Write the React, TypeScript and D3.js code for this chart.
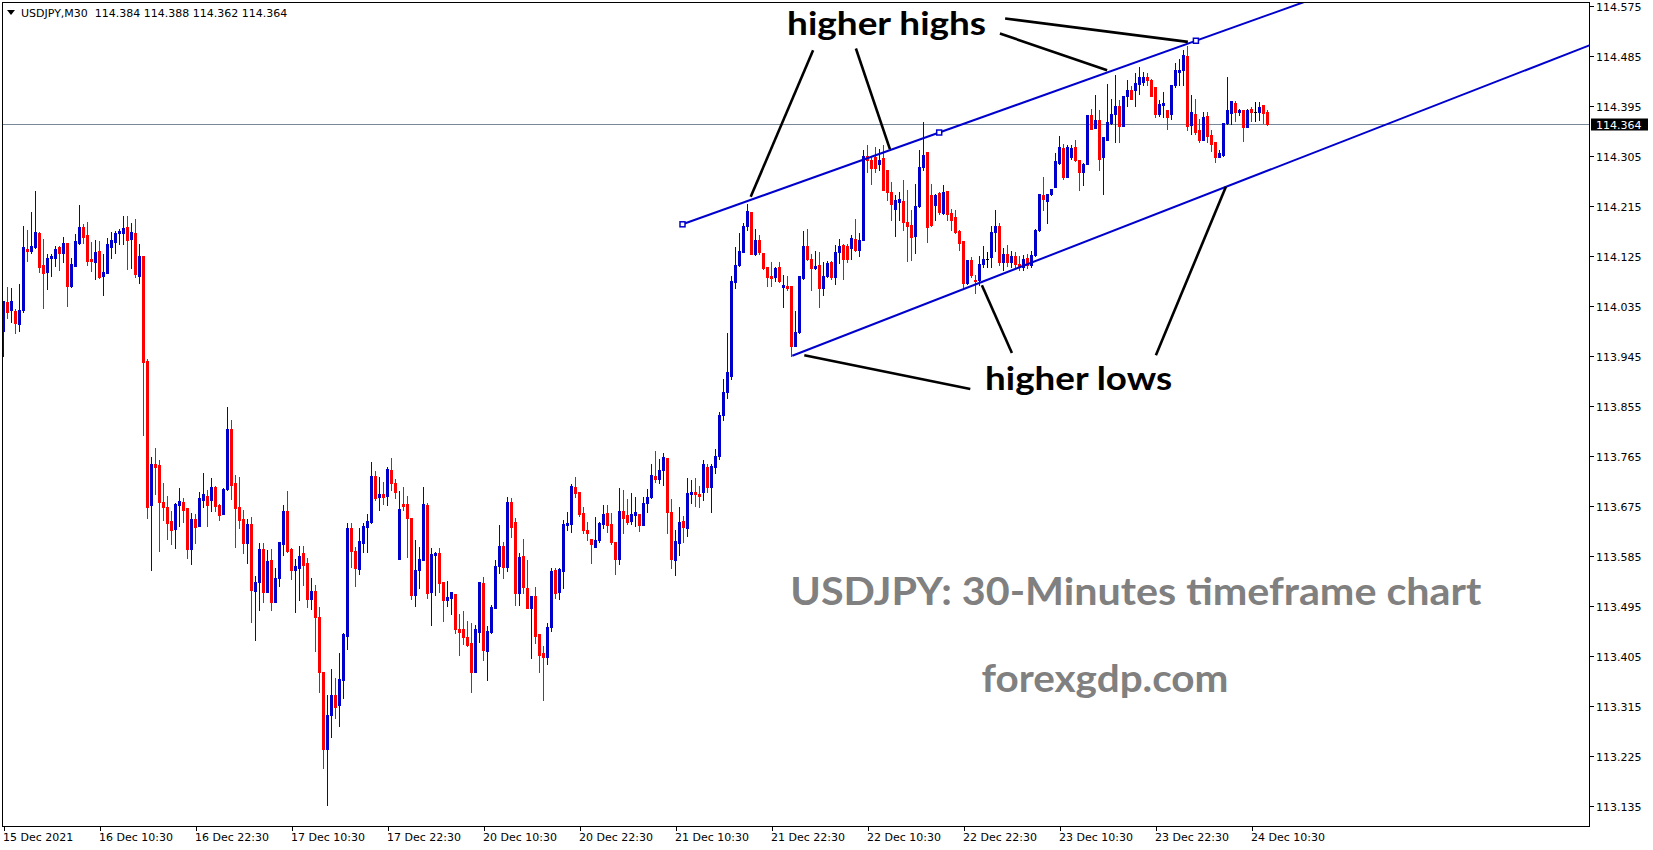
import React from 'react';
import * as d3 from 'd3';

// ---------- DATA (USDJPY M30, one entry per bar) ----------
const opens = [
  113.990, 114.042, 114.028, 114.026, 114.003, 114.028, 114.139, 114.135, 114.141, 114.167,
  114.109, 114.096, 114.122, 114.122, 114.141, 114.131, 114.149, 114.071, 114.107, 114.149,
  114.177, 114.163, 114.120, 114.114, 114.134, 114.089, 114.095, 114.141, 114.150, 114.167,
  114.167, 114.177, 114.156, 114.167, 114.089, 114.125, 113.936, 113.677, 113.751, 113.749,
  113.682, 113.673, 113.648, 113.634, 113.677, 113.682, 113.672, 113.598, 113.652, 113.639,
  113.686, 113.693, 113.686, 113.709, 113.677, 113.661, 113.706, 113.814, 113.717, 113.673,
  113.652, 113.609, 113.643, 113.523, 113.539, 113.598, 113.521, 113.578, 113.503, 113.546,
  113.608, 113.667, 113.598, 113.561, 113.564, 113.591, 113.573, 113.508, 113.522, 113.476,
  113.377, 113.238, 113.299, 113.335, 113.317, 113.362, 113.441, 113.636, 113.594, 113.562,
  113.609, 113.638, 113.647, 113.729, 113.692, 113.697, 113.693, 113.740, 113.717, 113.580,
  113.679, 113.679, 113.654, 113.515, 113.560, 113.578, 113.677, 113.521, 113.587, 113.591,
  113.539, 113.506, 113.510, 113.517, 113.454, 113.454, 113.440, 113.429, 113.377, 113.449,
  113.537, 113.414, 113.449, 113.492, 113.567, 113.603, 113.566, 113.683, 113.647, 113.519,
  113.586, 113.528, 113.492, 113.514, 113.445, 113.411, 113.404, 113.458, 113.560, 113.521,
  113.558, 113.641, 113.643, 113.710, 113.701, 113.663, 113.632, 113.616, 113.602, 113.614,
  113.643, 113.663, 113.643, 113.611, 113.580, 113.666, 113.659, 113.648, 113.659, 113.661,
  113.641, 113.681, 113.692, 113.729, 113.724, 113.740, 113.762, 113.665, 113.578, 113.609,
  113.649, 113.636, 113.697, 113.701, 113.697, 113.700, 113.746, 113.710, 113.746, 113.766,
  113.840, 113.880, 113.910, 114.079, 114.109, 114.133, 114.179, 114.205, 114.130, 114.155,
  114.131, 114.105, 114.090, 114.087, 114.105, 114.070, 114.071, 114.071, 113.963, 113.988,
  114.086, 114.143, 114.120, 114.104, 114.109, 114.068, 114.089, 114.114, 114.087, 114.132,
  114.146, 114.143, 114.140, 114.157, 114.137, 114.154, 114.305, 114.298, 114.304, 114.291,
  114.302, 114.281, 114.241, 114.211, 114.222, 114.225, 114.187, 114.181, 114.161, 114.215,
  114.286, 114.313, 114.235, 114.217, 114.239, 114.203, 114.242, 114.203, 114.196, 114.170,
  114.152, 114.077, 114.118, 114.083, 114.082, 114.112, 114.121, 114.123, 114.169, 114.179,
  114.115, 114.130, 114.115, 114.125, 114.112, 114.106, 114.122, 114.110, 114.128, 114.172,
  114.236, 114.225, 114.238, 114.250, 114.293, 114.320, 114.268, 114.303, 114.322, 114.298,
  114.277, 114.292, 114.379, 114.356, 114.370, 114.304, 114.335, 114.365, 114.381, 114.395,
  114.359, 114.413, 114.424, 114.424, 114.436, 114.439, 114.448, 114.442, 114.430, 114.382,
  114.397, 114.388, 114.382, 114.433, 114.457, 114.460, 114.485, 114.361, 114.382, 114.353,
  114.335, 114.377, 114.343, 114.331, 114.304, 114.307, 114.365, 114.383, 114.401, 114.385,
  114.388, 114.358, 114.391, 114.385, 114.385, 114.397, 114.384,
];

const highs = [
  114.044, 114.070, 114.068, 114.030, 114.075, 114.179, 114.172, 114.204, 114.243, 114.168,
  114.156, 114.129, 114.129, 114.143, 114.143, 114.160, 114.149, 114.122, 114.165, 114.217,
  114.183, 114.186, 114.150, 114.154, 114.152, 114.129, 114.158, 114.168, 114.170, 114.174,
  114.197, 114.197, 114.185, 114.192, 114.147, 114.125, 113.940, 113.764, 113.780, 113.758,
  113.717, 113.693, 113.666, 113.681, 113.708, 113.690, 113.672, 113.663, 113.661, 113.700,
  113.735, 113.704, 113.726, 113.711, 113.679, 113.708, 113.853, 113.830, 113.731, 113.727,
  113.668, 113.652, 113.656, 113.550, 113.609, 113.609, 113.596, 113.598, 113.564, 113.611,
  113.677, 113.703, 113.600, 113.581, 113.604, 113.603, 113.582, 113.546, 113.533, 113.494,
  113.377, 113.335, 113.382, 113.366, 113.411, 113.447, 113.645, 113.645, 113.602, 113.636,
  113.645, 113.661, 113.755, 113.738, 113.728, 113.719, 113.746, 113.762, 113.724, 113.702,
  113.710, 113.693, 113.654, 113.614, 113.602, 113.710, 113.681, 113.600, 113.593, 113.600,
  113.539, 113.540, 113.521, 113.517, 113.481, 113.486, 113.468, 113.465, 113.461, 113.539,
  113.548, 113.459, 113.497, 113.578, 113.641, 113.611, 113.692, 113.690, 113.654, 113.591,
  113.616, 113.578, 113.514, 113.530, 113.445, 113.424, 113.465, 113.564, 113.564, 113.564,
  113.650, 113.665, 113.715, 113.728, 113.701, 113.674, 113.647, 113.616, 113.656, 113.647,
  113.677, 113.677, 113.663, 113.611, 113.708, 113.704, 113.688, 113.699, 113.692, 113.661,
  113.692, 113.706, 113.751, 113.775, 113.760, 113.771, 113.762, 113.688, 113.632, 113.674,
  113.658, 113.726, 113.722, 113.726, 113.712, 113.758, 113.752, 113.752, 113.778, 113.845,
  113.905, 113.987, 114.090, 114.142, 114.167, 114.185, 114.220, 114.205, 114.175, 114.163,
  114.131, 114.105, 114.114, 114.106, 114.114, 114.091, 114.089, 114.071, 114.026, 114.089,
  114.170, 114.175, 114.129, 114.135, 114.132, 114.115, 114.117, 114.117, 114.146, 114.157,
  114.147, 114.147, 114.164, 114.192, 114.167, 114.316, 114.325, 114.305, 114.322, 114.318,
  114.325, 114.281, 114.259, 114.235, 114.240, 114.262, 114.244, 114.208, 114.256, 114.316,
  114.367, 114.313, 114.256, 114.238, 114.241, 114.253, 114.242, 114.211, 114.208, 114.172,
  114.152, 114.119, 114.124, 114.092, 114.125, 114.143, 114.133, 114.179, 114.208, 114.185,
  114.140, 114.145, 114.135, 114.132, 114.125, 114.128, 114.130, 114.135, 114.175, 114.238,
  114.268, 114.238, 114.247, 114.311, 114.341, 114.328, 114.325, 114.325, 114.334, 114.298,
  114.293, 114.379, 114.391, 114.415, 114.388, 114.339, 114.436, 114.409, 114.451, 114.406,
  114.413, 114.443, 114.431, 114.455, 114.466, 114.457, 114.455, 114.445, 114.430, 114.406,
  114.421, 114.389, 114.433, 114.473, 114.481, 114.496, 114.503, 114.415, 114.409, 114.373,
  114.385, 114.385, 114.352, 114.331, 114.316, 114.365, 114.448, 114.404, 114.404, 114.391,
  114.388, 114.391, 114.393, 114.403, 114.403, 114.397, 114.388,
];

const lows = [
  113.946, 114.014, 114.007, 113.987, 113.990, 114.025, 114.116, 114.131, 114.140, 114.096,
  114.032, 114.066, 114.089, 114.107, 114.100, 114.114, 114.035, 114.070, 114.107, 114.147,
  114.149, 114.109, 114.098, 114.084, 114.086, 114.055, 114.095, 114.122, 114.131, 114.147,
  114.147, 114.102, 114.104, 114.087, 114.077, 113.803, 113.654, 113.560, 113.697, 113.594,
  113.650, 113.616, 113.607, 113.600, 113.639, 113.646, 113.582, 113.571, 113.609, 113.639,
  113.673, 113.639, 113.666, 113.666, 113.650, 113.661, 113.704, 113.688, 113.601, 113.636,
  113.591, 113.573, 113.467, 113.435, 113.489, 113.503, 113.521, 113.489, 113.502, 113.532,
  113.588, 113.593, 113.545, 113.485, 113.507, 113.533, 113.494, 113.490, 113.414, 113.341,
  113.204, 113.137, 113.260, 113.294, 113.280, 113.330, 113.418, 113.566, 113.531, 113.553,
  113.593, 113.593, 113.645, 113.686, 113.668, 113.679, 113.677, 113.704, 113.690, 113.580,
  113.668, 113.584, 113.508, 113.495, 113.528, 113.578, 113.510, 113.461, 113.515, 113.521,
  113.468, 113.495, 113.481, 113.447, 113.407, 113.427, 113.423, 113.341, 113.377, 113.431,
  113.398, 113.362, 113.447, 113.492, 113.555, 113.546, 113.559, 113.620, 113.497, 113.497,
  113.519, 113.492, 113.402, 113.429, 113.377, 113.326, 113.391, 113.450, 113.510, 113.508,
  113.528, 113.632, 113.629, 113.692, 113.657, 113.627, 113.614, 113.573, 113.602, 113.611,
  113.636, 113.629, 113.607, 113.553, 113.571, 113.627, 113.643, 113.643, 113.640, 113.630,
  113.641, 113.665, 113.690, 113.719, 113.717, 113.713, 113.627, 113.564, 113.551, 113.587,
  113.611, 113.621, 113.681, 113.676, 113.674, 113.686, 113.700, 113.664, 113.735, 113.760,
  113.830, 113.870, 113.905, 114.068, 114.107, 114.133, 114.173, 114.130, 114.128, 114.130,
  114.103, 114.071, 114.071, 114.080, 114.079, 114.034, 114.064, 113.945, 113.963, 113.987,
  114.085, 114.119, 114.064, 114.102, 114.034, 114.055, 114.087, 114.085, 114.076, 114.113,
  114.084, 114.114, 114.120, 114.134, 114.125, 114.154, 114.277, 114.256, 114.277, 114.281,
  114.244, 114.226, 114.190, 114.161, 114.190, 114.172, 114.117, 114.118, 114.131, 114.214,
  114.280, 114.151, 114.179, 114.190, 114.202, 114.202, 114.190, 114.173, 114.167, 114.136,
  114.068, 114.076, 114.088, 114.059, 114.074, 114.106, 114.106, 114.106, 114.134, 114.110,
  114.100, 114.108, 114.105, 114.104, 114.100, 114.100, 114.104, 114.106, 114.125, 114.170,
  114.208, 114.185, 114.236, 114.249, 114.292, 114.265, 114.268, 114.301, 114.297, 114.244,
  114.253, 114.292, 114.355, 114.356, 114.280, 114.237, 114.335, 114.364, 114.331, 114.331,
  114.359, 114.395, 114.409, 114.395, 114.418, 114.433, 114.433, 114.413, 114.375, 114.378,
  114.376, 114.355, 114.373, 114.430, 114.433, 114.433, 114.353, 114.346, 114.346, 114.331,
  114.335, 114.331, 114.315, 114.295, 114.304, 114.305, 114.364, 114.364, 114.369, 114.379,
  114.332, 114.358, 114.369, 114.369, 114.370, 114.365, 114.362,
];

const closes = [
  114.044, 114.025, 114.044, 114.005, 114.028, 114.141, 114.135, 114.143, 114.168, 114.105,
  114.095, 114.122, 114.125, 114.138, 114.131, 114.149, 114.071, 114.111, 114.152, 114.177,
  114.159, 114.116, 114.116, 114.132, 114.087, 114.096, 114.147, 114.154, 114.167, 114.170,
  114.176, 114.154, 114.168, 114.093, 114.125, 113.934, 113.673, 113.751, 113.745, 113.682,
  113.673, 113.645, 113.632, 113.679, 113.684, 113.668, 113.598, 113.652, 113.637, 113.690,
  113.697, 113.677, 113.709, 113.675, 113.659, 113.706, 113.814, 113.713, 113.672, 113.650,
  113.609, 113.643, 113.525, 113.539, 113.598, 113.520, 113.577, 113.503, 113.546, 113.611,
  113.667, 113.594, 113.561, 113.567, 113.585, 113.569, 113.508, 113.522, 113.476, 113.377,
  113.238, 113.299, 113.335, 113.314, 113.364, 113.445, 113.636, 113.594, 113.564, 113.612,
  113.639, 113.648, 113.729, 113.690, 113.697, 113.692, 113.742, 113.717, 113.701, 113.670,
  113.676, 113.654, 113.515, 113.560, 113.580, 113.679, 113.519, 113.589, 113.591, 113.537,
  113.506, 113.512, 113.521, 113.454, 113.449, 113.440, 113.425, 113.377, 113.454, 113.538,
  113.416, 113.450, 113.494, 113.568, 113.603, 113.566, 113.683, 113.637, 113.519, 113.584,
  113.530, 113.492, 113.514, 113.441, 113.407, 113.404, 113.458, 113.558, 113.519, 113.562,
  113.643, 113.645, 113.711, 113.699, 113.661, 113.632, 113.627, 113.607, 113.614, 113.645,
  113.661, 113.641, 113.611, 113.580, 113.666, 113.654, 113.647, 113.661, 113.665, 113.641,
  113.681, 113.692, 113.731, 113.724, 113.740, 113.764, 113.665, 113.580, 113.612, 113.647,
  113.638, 113.699, 113.701, 113.697, 113.694, 113.752, 113.710, 113.748, 113.766, 113.840,
  113.880, 113.917, 114.080, 114.109, 114.134, 114.179, 114.206, 114.130, 114.155, 114.132,
  114.104, 114.087, 114.086, 114.104, 114.081, 114.073, 114.068, 113.963, 113.988, 114.089,
  114.143, 114.121, 114.104, 114.107, 114.068, 114.089, 114.113, 114.087, 114.132, 114.143,
  114.120, 114.120, 114.158, 114.137, 114.154, 114.305, 114.298, 114.284, 114.284, 114.298,
  114.245, 114.241, 114.219, 114.226, 114.228, 114.187, 114.179, 114.160, 114.215, 114.286,
  114.307, 114.178, 114.181, 114.235, 114.205, 114.241, 114.202, 114.191, 114.169, 114.149,
  114.077, 114.119, 114.092, 114.080, 114.112, 114.121, 114.121, 114.169, 114.179, 114.115,
  114.130, 114.115, 114.125, 114.112, 114.106, 114.120, 114.110, 114.128, 114.172, 114.238,
  114.228, 114.238, 114.247, 114.297, 114.322, 114.268, 114.322, 114.320, 114.298, 114.276,
  114.292, 114.379, 114.355, 114.370, 114.300, 114.339, 114.367, 114.382, 114.395, 114.359,
  114.413, 114.424, 114.409, 114.437, 114.448, 114.448, 114.442, 114.413, 114.382, 114.400,
  114.401, 114.376, 114.433, 114.460, 114.460, 114.487, 114.359, 114.385, 114.349, 114.335,
  114.376, 114.341, 114.328, 114.304, 114.311, 114.365, 114.388, 114.404, 114.385, 114.389,
  114.358, 114.389, 114.385, 114.385, 114.394, 114.383, 114.364,
];

const timeLabels = [
  '15 Dec 2021', '16 Dec 10:30', '16 Dec 22:30', '17 Dec 10:30', '17 Dec 22:30',
  '20 Dec 10:30', '20 Dec 22:30', '21 Dec 10:30', '21 Dec 22:30', '22 Dec 10:30',
  '22 Dec 22:30', '23 Dec 10:30', '23 Dec 22:30', '24 Dec 10:30',
];
const timeLabelBars = [0, 24, 48, 72, 96, 120, 144, 168, 192, 216, 240, 264, 288, 312];

const priceTicks = [
  114.575, 114.485, 114.395, 114.305, 114.215, 114.125, 114.035, 113.945, 113.855,
  113.765, 113.675, 113.585, 113.495, 113.405, 113.315, 113.225, 113.135,
];
const lastPrice = 114.364;
const headerText = 'USDJPY,M30  114.384 114.388 114.362 114.364';

// trend lines: [bar index, price] anchor pairs
const upperLine = [[169.75, 114.1826], [298.1, 114.513]];
const lowerLine = [[197.2, 113.946], [395.5, 114.502]];

// black pointer lines: [bar, price, bar, price]
const pointerLines = [
  [202.4, 114.496, 186.8, 114.232],
  [213.1, 114.499, 221.6, 114.318],
  [249.1, 114.526, 275.9, 114.460],
  [250.4, 114.553, 296.1, 114.511],
  [200.2, 113.947, 241.7, 113.886],
  [244.6, 114.073, 252.1, 113.951],
  [305.6, 114.250, 288.1, 113.947],
];

const noteTexts = ['higher highs', 'higher lows', 'USDJPY: 30-Minutes timeframe chart', 'forexgdp.com'];
const noteBars = [195.9, 245.4, 196.7, 244.5];
const notePrices = [114.5233, 113.8843, 113.4973, 113.341];

// ---------- STYLE ----------
const BULL = '#0000CD';
const BEAR = '#FF0000';
const LINE_BLUE = '#0000CD';
const noteStyle = [
  { size: 33, len: 199, color: '#000000' },
  { size: 33, len: 187, color: '#000000' },
  { size: 38, len: 691, color: '#808080' },
  { size: 38, len: 247, color: '#808080' },
];

export default function App() {
  const n = opens.length;
  const x = d3.scaleLinear().domain([0, 1]).range([3.5, 7.5]);
  const y = d3.scaleLinear().domain([113.135, 114.575]).range([806.3, 6.3]);

  const plotL = 2.5, plotT = 2.5, plotR = 1589.5, plotB = 826.5;
  const axisFont = 'DejaVu Sans, Verdana, sans-serif';

  const lineEnd = (ln: number[][], toBar: number) => {
    const [[b0, p0], [b1, p1]] = ln;
    const slope = (p1 - p0) / (b1 - b0);
    return { x1: x(b0), y1: y(p0), x2: x(toBar), y2: y(p0 + slope * (toBar - b0)) };
  };
  const up = lineEnd(upperLine, 460);
  const lo = lineEnd(lowerLine, 460);
  const upMid = (upperLine[0][0] + upperLine[1][0]) / 2;
  const upSlope = (upperLine[1][1] - upperLine[0][1]) / (upperLine[1][0] - upperLine[0][0]);
  const squares = [upperLine[0][0], upMid, upperLine[1][0]].map((b) => [x(b), y(upperLine[0][1] + upSlope * (b - upperLine[0][0]))]);

  const lastY = Math.round(y(lastPrice)) + 0.5;

  return (
    <svg width={1653} height={850} style={{ position: 'absolute', left: 0, top: 0, display: 'block' }}>
      <defs>
        <clipPath id="plotClip">
          <rect x={3} y={3} width={plotR - 3.5} height={plotB - 3.5} />
        </clipPath>
      </defs>
      <rect x={0} y={0} width={1653} height={850} fill="#ffffff" />

      <g clipPath="url(#plotClip)">
        {/* last price line */}
        <line x1={plotL} x2={plotR} y1={lastY} y2={lastY} stroke="#778899" strokeWidth={1} />

        {/* candles */}
        <g shapeRendering="crispEdges">
          {d3.range(n).map((i) => {
            const o = opens[i], c = closes[i], h = highs[i], l = lows[i];
            const col = c > o ? BULL : c < o ? BEAR : '#000000';
            const cx = x(i);
            const wt = Math.round(y(Math.max(h, o, c)));
            const wb = Math.round(y(Math.min(l, o, c)));
            const bt = Math.round(y(Math.max(o, c)));
            const bb = Math.round(y(Math.min(o, c)));
            return (
              <g key={i}>
                <rect x={cx - 0.5} y={wt} width={1} height={Math.max(1, wb - wt + 1)} fill={col} />
                <rect x={cx - 1.5} y={bt} width={3} height={Math.max(1, bb - bt + 1)} fill={col} />
              </g>
            );
          })}
        </g>

        {/* channel lines */}
        <line {...up} stroke={LINE_BLUE} strokeWidth={2} />
        <line {...lo} stroke={LINE_BLUE} strokeWidth={2} />
        {squares.map(([sx, sy], k) => (
          <rect key={k} x={sx - 2.5} y={sy - 2.5} width={5} height={5} fill="#ffffff" stroke={LINE_BLUE} strokeWidth={1.5} />
        ))}

        {/* pointer lines */}
        {pointerLines.map((p, k) => (
          <line key={k} x1={x(p[0])} y1={y(p[1])} x2={x(p[2])} y2={y(p[3])} stroke="#000000" strokeWidth={2.6} />
        ))}

        {/* annotation texts */}
        {noteTexts.map((t, k) => (
          <text
            key={k}
            x={x(noteBars[k])}
            y={y(notePrices[k])}
            fontFamily="Lato, 'Open Sans', sans-serif"
            fontWeight={700}
            fontSize={noteStyle[k].size}
            fill={noteStyle[k].color}
            textLength={noteStyle[k].len}
            lengthAdjust="spacingAndGlyphs"
          >
            {t}
          </text>
        ))}
      </g>

      {/* frame */}
      <rect x={plotL} y={plotT} width={plotR - plotL} height={plotB - plotT} fill="none" stroke="#000000" strokeWidth={1} shapeRendering="crispEdges" />

      {/* header */}
      <path d="M7,10 L15,10 L11,15 Z" fill="#000000" />
      <text x={21} y={17} fontFamily={axisFont} fontSize={11} fill="#000000" style={{ whiteSpace: 'pre' }}>
        {headerText}
      </text>

      {/* price axis */}
      {priceTicks.map((p, k) => {
        const ty = Math.round(y(p)) + 0.5;
        return (
          <g key={k}>
            <line x1={plotR} x2={plotR + 4} y1={ty} y2={ty} stroke="#000000" strokeWidth={1} shapeRendering="crispEdges" />
            <text x={1596} y={ty + 4} fontFamily={axisFont} fontSize={11} fill="#000000">
              {p.toFixed(3)}
            </text>
          </g>
        );
      })}
      <rect x={1591} y={lastY - 6} width={57} height={12} fill="#000000" />
      <text x={1596} y={lastY + 4} fontFamily={axisFont} fontSize={11} fill="#ffffff">
        {lastPrice.toFixed(3)}
      </text>

      {/* time axis */}
      {timeLabels.map((t, k) => {
        const tx = Math.round(x(timeLabelBars[k])) + 0.5;
        return (
          <g key={k}>
            <line x1={tx} x2={tx} y1={plotB} y2={plotB + 4} stroke="#000000" strokeWidth={1} shapeRendering="crispEdges" />
            <text x={tx - 1.5} y={841} fontFamily={axisFont} fontSize={11} fill="#000000">
              {t}
            </text>
          </g>
        );
      })}
    </svg>
  );
}
